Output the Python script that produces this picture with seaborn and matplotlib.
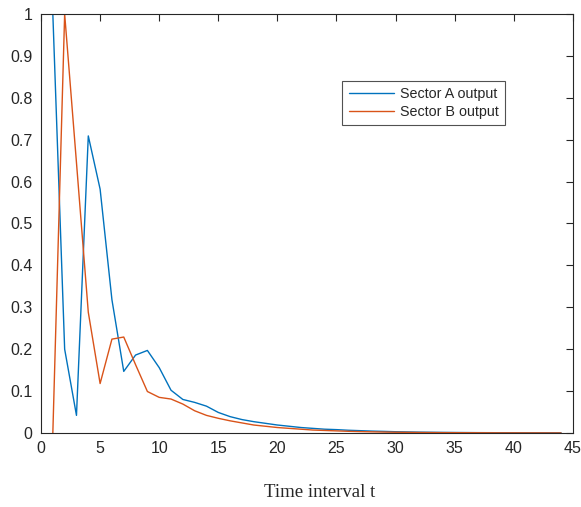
import numpy as np
import pandas as pd
import matplotlib
matplotlib.use("Agg")
import matplotlib.pyplot as plt
import seaborn as sns

# datos
t = list(range(1, 45))
sector_a = [1.0, 0.2, 0.042, 0.709, 0.582, 0.318, 0.147, 0.186, 0.197, 0.156,
            0.102, 0.08, 0.073, 0.064, 0.049, 0.039, 0.032, 0.027, 0.023, 0.019,
            0.016, 0.013, 0.011, 0.009, 0.008, 0.0065, 0.0055, 0.0045, 0.0038, 0.003,
            0.0025, 0.002, 0.0017, 0.0014, 0.0012, 0.001, 0.0008, 0.0007, 0.0006, 0.0005,
            0.0004, 0.0003, 0.0003, 0.0002]
sector_b = [0.0, 1.0, 0.645, 0.288, 0.118, 0.224, 0.229, 0.163, 0.099, 0.085,
            0.081, 0.069, 0.053, 0.042, 0.035, 0.029, 0.024, 0.019, 0.016, 0.013,
            0.011, 0.009, 0.007, 0.006, 0.005, 0.004, 0.0033, 0.0027, 0.0022, 0.0018,
            0.0015, 0.0012, 0.001, 0.0008, 0.0007, 0.0006, 0.0005, 0.0004, 0.0003, 0.0003,
            0.0002, 0.0002, 0.0001, 0.0001]

df = pd.DataFrame({
    't': t * 2,
    'valor': sector_a + sector_b,
    'serie': ['Sector A output'] * len(t) + ['Sector B output'] * len(t),
})

sns.set_style('white')
plt.rcParams['font.family'] = ['Liberation Sans', 'DejaVu Sans']

fig = plt.figure(figsize=(5.81, 5.07), dpi=100)
ax = fig.add_axes([0.0706, 0.146, 0.9154, 0.8264])
sns.lineplot(data=df, x='t', y='valor', hue='serie',
             palette=['#0072BD', '#D95319'], lw=1.0, ax=ax)

ax.set_xlim(0, 45)
ax.set_ylim(0, 1)
ax.set_xticks(np.arange(0, 46, 5))
ax.set_yticks(np.round(np.arange(0, 1.01, 0.1), 1))
ax.set_yticklabels(['0', '0.1', '0.2', '0.3', '0.4', '0.5', '0.6', '0.7', '0.8', '0.9', '1'])
ax.tick_params(direction='in', top=True, right=True, length=5, width=0.8,
               labelsize=11.5, colors='#262626', pad=6)
for s in ax.spines.values():
    s.set_color('#262626')
    s.set_linewidth(0.8)

ax.set_ylabel('')
ax.set_xlabel('Time interval t', family=['Liberation Serif', 'DejaVu Serif'],
              fontsize=13.5)
ax.xaxis.set_label_coords(0.524, -0.122)

leg = ax.legend(loc='upper left', bbox_to_anchor=(0.553, 0.858), fontsize=10.3,
                frameon=True, fancybox=False, borderpad=0.45, handlelength=3.2,
                labelspacing=0.25, handletextpad=0.4)
leg.get_frame().set_edgecolor('#262626')
leg.get_frame().set_linewidth(0.8)

fig.savefig('out.png', dpi=100)
